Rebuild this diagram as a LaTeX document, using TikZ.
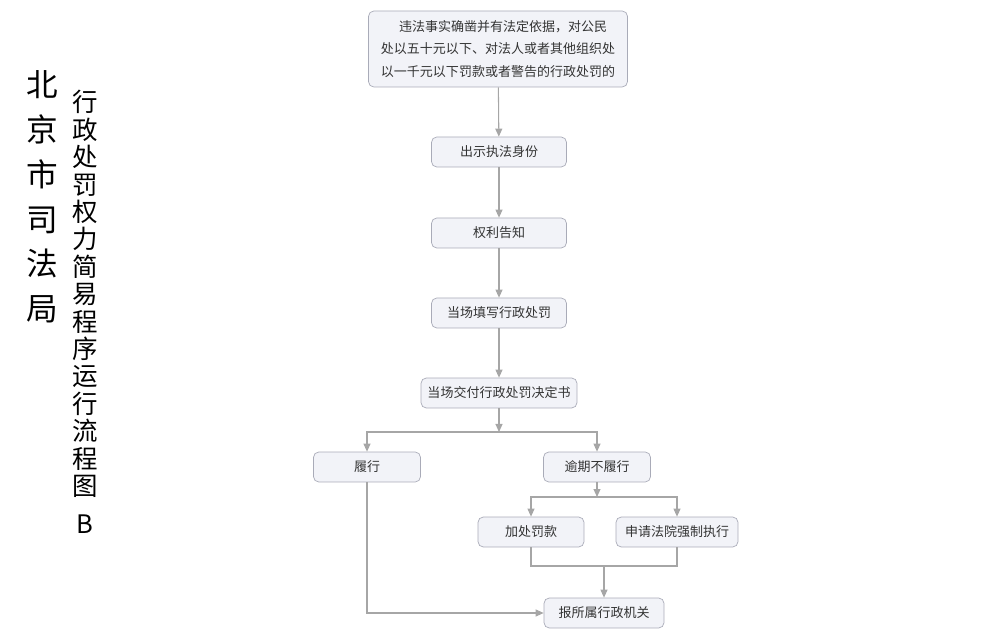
\documentclass[tikz,border=0pt]{standalone}
\usepackage{fontspec}
\setmainfont{Noto Sans CJK SC}
\usetikzlibrary{arrows.meta, calc}
\definecolor{boxfill}{HTML}{F2F3F8}
\definecolor{boxline}{HTML}{A9ABB8}
\definecolor{linkgray}{HTML}{A6A6A6}
\newcommand{\flowArrow}{{Triangle[length=1.6mm, width=1.4mm]}}
\tikzset{
	stepbox/.style={draw=boxline, fill=boxfill, rounded corners=3pt, minimum height=0.6cm, font=\fontsize{7.4}{9}\selectfont, text=black!80, inner sep=1pt},
	link/.style={draw=linkgray, line width=0.6pt},
}

\begin{document}
\begin{tikzpicture}[x=0.02cm, y=-0.02cm]
	\useasboundingbox (0,0) rectangle (1000,644);

	% title columns
	\node[font=\fontsize{18}{25.5}\selectfont, align=center, inner sep=0] (orgname) at (42,197) {北\\京\\市\\司\\法\\局};
	\node[font=\fontsize{14.5}{15.6}\selectfont, align=center, inner sep=0] (titlename) at (85,312) {行\\政\\处\\罚\\权\\力\\简\\易\\程\\序\\运\\行\\流\\程\\图\\[6pt]B};

	% steps
	\node[stepbox, minimum width=5.18cm, minimum height=1.52cm, align=left, font=\fontsize{7.4}{13}\selectfont] (cause) at (498,49)
		{\hspace*{1.4em}违法事实确凿并有法定依据，对公民\\处以五十元以下、对法人或者其他组织处\\以一千元以下罚款或者警告的行政处罚的};
	\node[stepbox, minimum width=2.7cm] (showid) at (499,152) {出示执法身份};
	\node[stepbox, minimum width=2.7cm] (inform) at (499,233) {权利告知};
	\node[stepbox, minimum width=2.7cm] (fill) at (499,313) {当场填写行政处罚};
	\node[stepbox, minimum width=3.12cm] (deliver) at (499,393) {当场交付行政处罚决定书};
	\node[stepbox, minimum width=2.14cm] (perform) at (367,467) {履行};
	\node[stepbox, minimum width=2.14cm] (overdue) at (597,467) {逾期不履行};
	\node[stepbox, minimum width=2.12cm] (surcharge) at (531,532) {加处罚款};
	\node[stepbox, minimum width=2.44cm] (court) at (677,532) {申请法院强制执行};
	\node[stepbox, minimum width=2.4cm] (report) at (604,613) {报所属行政机关};

	% connectors
	\draw[link, -\flowArrow] (cause) -- (showid);
	\draw[link, -\flowArrow] (showid) -- (inform);
	\draw[link, -\flowArrow] (inform) -- (fill);
	\draw[link, -\flowArrow] (fill) -- (deliver);

	\coordinate (split) at (499,432);
	\draw[link, -\flowArrow] (deliver) -- (split);
	\draw[link, -\flowArrow] (split) -| (perform);
	\draw[link, -\flowArrow] (split) -| (overdue);

	\coordinate (split2) at (597,497);
	\draw[link, -\flowArrow] (overdue) -- (split2);
	\draw[link, -\flowArrow] (split2) -| (surcharge);
	\draw[link, -\flowArrow] (split2) -| (court);

	\coordinate (merge) at (604,566);
	\draw[link] (surcharge) |- (merge) -| (court);
	\draw[link, -\flowArrow] (merge) -- (report);
	\draw[link, -\flowArrow] (perform) |- (report);
\end{tikzpicture}
\end{document}
